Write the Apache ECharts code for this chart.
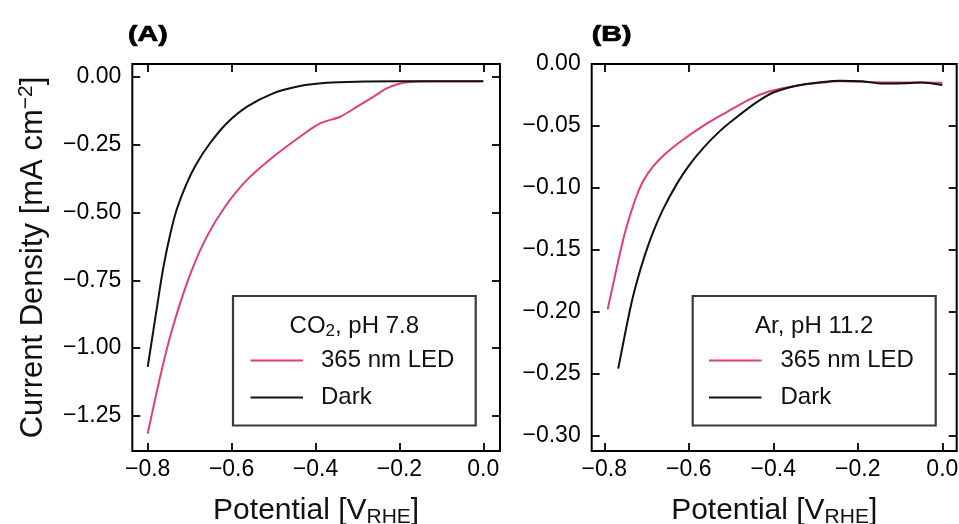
<!DOCTYPE html>
<html>
<head>
<meta charset="utf-8">
<script src="https://cdn.jsdelivr.net/npm/echarts@6/dist/echarts.min.js"></script>
<style>
  html, body { margin: 0; padding: 0; background: #ffffff; }
  #chart { width: 959px; height: 524px; }
</style>
</head>
<body>
<div id="chart"></div>
<script>
// Panel A: CO2-saturated electrolyte, pH 7.8
const potentialA_led  = [-0.800, -0.7826, -0.7666, -0.7468, -0.723, -0.6951, -0.6594, -0.6157, -0.564, -0.5006, -0.437, -0.3893, -0.3416, -0.3018, -0.2622, -0.2303, -0.2026, -0.180, -0.120, 0.000];
const currentA_led    = [-1.315, -1.190, -1.081, -0.959, -0.836, -0.713, -0.590, -0.479, -0.381, -0.295, -0.221, -0.172, -0.1475, -0.111, -0.074, -0.043, -0.027, -0.020, -0.017, -0.017];
const potentialA_dark = [-0.800, -0.787, -0.775, -0.763, -0.747, -0.731, -0.707, -0.683, -0.652, -0.612, -0.564, -0.501, -0.437, -0.373, -0.302, -0.200, -0.100, 0.000];
const currentA_dark   = [-1.069, -0.940, -0.820, -0.705, -0.585, -0.490, -0.393, -0.319, -0.246, -0.172, -0.111, -0.061, -0.034, -0.022, -0.018, -0.017, -0.017, -0.017];

// Panel B: Ar-saturated electrolyte, pH 11.2
const potentialB_led  = [-0.792, -0.763, -0.751, -0.727, -0.708, -0.684, -0.652, -0.613, -0.566, -0.511, -0.456, -0.408, -0.345, -0.282, -0.243, -0.148, -0.050, 0.000];
const currentB_led    = [-0.198, -0.153, -0.136, -0.1096, -0.0945, -0.0825, -0.0715, -0.061, -0.050, -0.039, -0.0285, -0.022, -0.0175, -0.015, -0.014, -0.0148, -0.015, -0.0152];
const potentialB_dark = [-0.767, -0.739, -0.725, -0.704, -0.684, -0.661, -0.629, -0.601, -0.566, -0.526, -0.487, -0.440, -0.400, -0.345, -0.282, -0.243, -0.190, -0.141, -0.090, -0.050, 0.000];
const currentB_dark   = [-0.246, -0.198, -0.1784, -0.1543, -0.1353, -0.1174, -0.0972, -0.0826, -0.0679, -0.054, -0.043, -0.031, -0.023, -0.0175, -0.0145, -0.0135, -0.014, -0.0158, -0.0155, -0.015, -0.017];

// Tick positions
const xTicks  = [-0.8, -0.6, -0.4, -0.2, 0.0];
const yTicksA = [0.00, -0.25, -0.50, -0.75, -1.00, -1.25];
const yTicksB = [0.00, -0.05, -0.10, -0.15, -0.20, -0.25, -0.30];

const seriesNames = ['365 nm LED', 'Dark'];
const legendTitles = [['CO', '2', ', pH 7.8'], ['Ar, pH 11.2']];
const panelLabels = ['(A)', '(B)'];

const PINK = '#e23c7b';
const DARK = '#111111';
const FONT = '"Liberation Sans", Arial, Helvetica, sans-serif';

const zip = (xs, ys) => xs.map((x, i) => [x, ys[i]]);
const fmt = d => v => (v < 0 ? '\u2212' : '') + Math.abs(v).toFixed(d);

const grids = [
  { left: 132.3, top: 64, width: 367.7, height: 387 },
  { left: 591.7, top: 64, width: 365, height: 387 }
];
const xRanges = [[-0.8367, 0.0398], [-0.8298, 0.034]];
const yRanges = [[-1.379, 0.047], [-0.3125, 0.0]];

const tickStyle = { inside: true, length: 8, lineStyle: { color: '#000', width: 1.8 } };
const labelBase = { fontSize: 23, color: '#000', fontFamily: FONT };
const hiddenLine = { show: false, onZero: false };

const xAxisName = {
  name: '{n|Potential [V}{s|RHE}{n|]}',
  nameLocation: 'middle',
  nameGap: 42,
  nameTextStyle: {
    rich: {
      n: { fontSize: 30, lineHeight: 35, fontFamily: FONT, color: '#111' },
      s: { fontSize: 21, lineHeight: 21, verticalAlign: 'bottom', fontFamily: FONT, color: '#111' }
    }
  }
};

const xAxes = [];
const yAxes = [];
[0, 1].forEach(g => {
  const [xmin, xmax] = xRanges[g];
  const [ymin, ymax] = yRanges[g];
  const yTicks = g === 0 ? yTicksA : yTicksB;
  xAxes.push(Object.assign({
    type: 'value', gridIndex: g, position: 'bottom', min: xmin, max: xmax,
    axisLine: hiddenLine, splitLine: { show: false },
    axisTick: Object.assign({ customValues: xTicks }, tickStyle),
    axisLabel: Object.assign({ customValues: xTicks, formatter: fmt(1), margin: 7 }, labelBase)
  }, xAxisName));
  xAxes.push({
    type: 'value', gridIndex: g, position: 'top', min: xmin, max: xmax,
    axisLine: hiddenLine, splitLine: { show: false },
    axisTick: Object.assign({ customValues: xTicks }, tickStyle),
    axisLabel: { show: false }
  });
  const yMain = {
    type: 'value', gridIndex: g, position: 'left', min: ymin, max: ymax,
    axisLine: hiddenLine, splitLine: { show: false },
    axisTick: Object.assign({ customValues: yTicks }, tickStyle),
    axisLabel: Object.assign({ customValues: yTicks, formatter: fmt(2), margin: 11 }, labelBase)
  };
  if (g === 0) {
    Object.assign(yMain, {
      name: '{n|Current Density [mA cm}{p|\u22122}{n|]}',
      nameLocation: 'middle',
      nameGap: 80,
      nameTextStyle: {
        rich: {
          n: { fontSize: 31, lineHeight: 37, fontFamily: FONT, color: '#111' },
          p: { fontSize: 21, lineHeight: 21, verticalAlign: 'top', fontFamily: FONT, color: '#111' }
        }
      }
    });
  }
  yAxes.push(yMain);
  yAxes.push({
    type: 'value', gridIndex: g, position: 'right', min: ymin, max: ymax,
    axisLine: hiddenLine, splitLine: { show: false },
    axisTick: Object.assign({ customValues: yTicks }, tickStyle),
    axisLabel: { show: false }
  });
});

function lineSeries(name, color, axisIdx, data) {
  return {
    type: 'line', name: name, xAxisIndex: axisIdx, yAxisIndex: axisIdx,
    data: data, symbol: 'none', showSymbol: false, smooth: 0.3,
    lineStyle: { color: color, width: 2 }, itemStyle: { color: color },
    emphasis: { disabled: true }, animation: false
  };
}

const series = [
  lineSeries(seriesNames[0], PINK, 0, zip(potentialA_led, currentA_led)),
  lineSeries(seriesNames[1], DARK, 0, zip(potentialA_dark, currentA_dark)),
  lineSeries(seriesNames[0], PINK, 2, zip(potentialB_led, currentB_led)),
  lineSeries(seriesNames[1], DARK, 2, zip(potentialB_dark, currentB_dark))
];

const legendText = { fontSize: 24, lineHeight: 23, color: '#111', fontFamily: FONT };
const legends = [
  { left: 250.5, textPad: 13 },
  { left: 709, textPad: 14 }
].map(l => ({
  data: seriesNames, orient: 'vertical', left: l.left, top: 348.5,
  icon: 'rect', itemWidth: 52.5, itemHeight: 2.2, itemGap: 13, padding: 0,
  selectedMode: false,
  textStyle: Object.assign({ padding: [0, 0, 0, l.textPad] }, legendText)
}));

const boxes = [
  { x: 233, y: 296, width: 242.7, height: 129.5, cx: 354.3 },
  { x: 692.7, y: 296, width: 243, height: 129.5, cx: 814.2 }
];

const titleRich = {
  n: { fontSize: 24, lineHeight: 28, fontFamily: FONT, fill: '#111' },
  s: { fontSize: 17, lineHeight: 17, verticalAlign: 'bottom', fontFamily: FONT, fill: '#111' }
};

const graphics = [];
boxes.forEach((b, i) => {
  graphics.push({
    type: 'rect', z: 1,
    shape: { x: b.x, y: b.y, width: b.width, height: b.height },
    style: { fill: '#ffffff', stroke: '#3a3a3a', lineWidth: 2.2 }
  });
  const parts = legendTitles[i];
  const text = parts.length === 3
    ? '{n|' + parts[0] + '}{s|' + parts[1] + '}{n|' + parts[2] + '}'
    : '{n|' + parts[0] + '}';
  graphics.push({
    type: 'text', z: 5, x: b.cx, y: 326,
    style: { text: text, rich: titleRich, align: 'center', verticalAlign: 'middle' }
  });
});
[128, 591.7].forEach((x, i) => {
  graphics.push({
    type: 'text', z: 5, x: x, y: 35, scaleX: 1.3,
    style: {
      text: panelLabels[i], font: 'bold 22px ' + FONT, fill: '#000',
      stroke: '#000', lineWidth: 0.7, align: 'left', verticalAlign: 'middle'
    }
  });
});

const chart = echarts.init(document.getElementById('chart'), null, { renderer: 'canvas' });
chart.setOption({
  animation: false,
  backgroundColor: '#ffffff',
  grid: grids.map(g => Object.assign({
    show: true, borderColor: '#000', borderWidth: 2, backgroundColor: 'transparent',
    containLabel: false, outerBoundsMode: 'none'
  }, g)),
  xAxis: xAxes,
  yAxis: yAxes,
  legend: legends,
  graphic: graphics,
  series: series
});
</script>
</body>
</html>
